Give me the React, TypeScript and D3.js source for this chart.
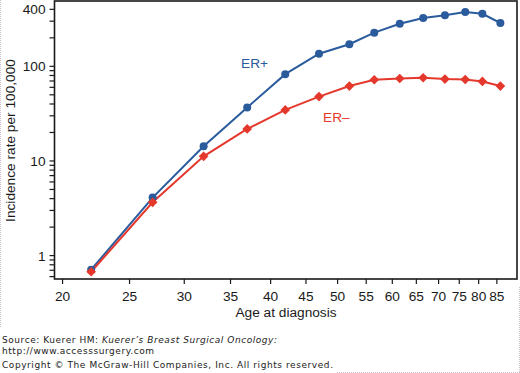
import React, { useEffect, useRef } from 'react';
import * as d3 from 'd3';

// Age at diagnosis (log-spaced axis) and incidence per 100,000
const ages = [22, 27, 32, 37, 42, 47, 52, 56.5, 61.5, 66.5, 71.5, 76.5, 81, 86];
const erPositive = [0.71, 4.1, 14.3, 36.8, 82.7, 136, 171, 227, 282, 324, 346, 375, 359, 287];
const erNegative = [0.675, 3.66, 11.2, 21.8, 34.6, 47.9, 61.9, 72.1, 74.4, 75.7, 73.3, 72.6, 69.2, 61.9];

const xTicks = [20, 25, 30, 35, 40, 45, 50, 55, 60, 65, 70, 75, 80, 85];
const yLabelTicks = [1, 10, 100, 400];
const yMinorTicks = [
  0.6, 0.7, 0.8, 0.9,
  1, 2, 3, 4, 5, 6, 7, 8, 9,
  10, 20, 30, 40, 50, 60, 70, 80, 90,
  100, 200, 300, 400,
];

const App: React.FC = () => {
  const svgRef = useRef<SVGSVGElement>(null);

  useEffect(() => {
    if (!svgRef.current) return;
    const svg = d3.select(svgRef.current);
    svg.selectAll('*').remove();

    // ---- styling ----
    const width = 520;
    const height = 373;
    const left = 54.5, right = 517, top = 1, bottom = 279;
    const blue = '#2a5b9c';
    const red = '#e5382d';
    const fontFamily = '"Liberation Sans", Arial, Helvetica, sans-serif';
    const fontSize = 13.7;

    svg.attr('width', width).attr('height', height);

    svg.append('rect').attr('width', width).attr('height', height).attr('fill', '#fff');

    const x = d3.scaleLog().domain([19.47, 90.9]).range([left, right]);
    const y = d3.scaleLog().domain([0.566, 490]).range([bottom, top]);

    // frame
    svg.append('rect')
      .attr('x', left)
      .attr('y', top)
      .attr('width', right - left)
      .attr('height', bottom - top)
      .attr('fill', 'none')
      .attr('stroke', '#1a1a1a')
      .attr('stroke-width', 1.6);

    // y ticks
    yMinorTicks.forEach(v => {
      svg.append('line')
        .attr('x1', left - 5)
        .attr('x2', left)
        .attr('y1', y(v))
        .attr('y2', y(v))
        .attr('stroke', '#1a1a1a')
        .attr('stroke-width', 1.2);
    });
    yLabelTicks.forEach(v => {
      svg.append('text')
        .attr('x', 45.5)
        .attr('y', y(v))
        .attr('dy', '0.36em')
        .attr('text-anchor', 'end')
        .attr('font-family', fontFamily)
        .attr('font-size', fontSize)
        .attr('fill', '#1a1a1a')
        .text(v);
    });

    // x ticks
    xTicks.forEach(v => {
      svg.append('line')
        .attr('x1', x(v))
        .attr('x2', x(v))
        .attr('y1', bottom)
        .attr('y2', bottom + 5)
        .attr('stroke', '#1a1a1a')
        .attr('stroke-width', 1.2);
      svg.append('text')
        .attr('x', x(v))
        .attr('y', 301)
        .attr('text-anchor', 'middle')
        .attr('font-family', fontFamily)
        .attr('font-size', fontSize)
        .attr('fill', '#1a1a1a')
        .text(v);
    });

    // axis titles
    svg.append('text')
      .attr('x', 286)
      .attr('y', 317)
      .attr('text-anchor', 'middle')
      .attr('font-family', fontFamily)
      .attr('font-size', fontSize)
      .attr('fill', '#1a1a1a')
      .text('Age at diagnosis');

    svg.append('text')
      .attr('transform', 'translate(14.5,140.5) rotate(-90)')
      .attr('text-anchor', 'middle')
      .attr('font-family', fontFamily)
      .attr('font-size', fontSize)
      .attr('fill', '#1a1a1a')
      .text('Incidence rate per 100,000');

    // series
    const line = d3.line<number>()
      .x((_, i) => x(ages[i]))
      .y(d => y(d));

    svg.append('path')
      .attr('d', line(erPositive))
      .attr('fill', 'none')
      .attr('stroke', blue)
      .attr('stroke-width', 2);

    svg.append('path')
      .attr('d', line(erNegative))
      .attr('fill', 'none')
      .attr('stroke', red)
      .attr('stroke-width', 2);

    erPositive.forEach((d, i) => {
      svg.append('circle')
        .attr('cx', x(ages[i]))
        .attr('cy', y(d))
        .attr('r', 4)
        .attr('fill', blue);
    });

    const diamond = d3.symbol().type(d3.symbolDiamond2).size(60);
    erNegative.forEach((d, i) => {
      svg.append('path')
        .attr('d', diamond()!)
        .attr('transform', `translate(${x(ages[i])},${y(d)})`)
        .attr('fill', red);
    });

    // series labels
    svg.append('text')
      .attr('x', 241)
      .attr('y', 68)
      .attr('font-family', fontFamily)
      .attr('font-size', fontSize)
      .attr('fill', blue)
      .text('ER+');

    svg.append('text')
      .attr('x', 323)
      .attr('y', 121.5)
      .attr('font-family', fontFamily)
      .attr('font-size', fontSize)
      .attr('fill', red)
      .text('ER\u2013');

    // footer
    const footFont = '"DejaVu Sans", Verdana, sans-serif';
    const src = svg.append('text')
      .attr('x', 2)
      .attr('y', 343)
      .attr('font-family', footFont)
      .attr('font-size', 9)
      .attr('fill', '#222')
      .attr('textLength', 275)
      .attr('lengthAdjust', 'spacing');
    src.append('tspan').text('Source: Kuerer HM: ');
    src.append('tspan').attr('font-style', 'italic').text('Kuerer\u2019s Breast Surgical Oncology:');

    svg.append('text')
      .attr('x', 2)
      .attr('y', 353.5)
      .attr('font-family', footFont)
      .attr('font-size', 9)
      .attr('fill', '#222')
      .attr('textLength', 152)
      .attr('lengthAdjust', 'spacing')
      .text('http://www.accesssurgery.com');

    svg.append('text')
      .attr('x', 2)
      .attr('y', 368)
      .attr('font-family', footFont)
      .attr('font-size', 9)
      .attr('fill', '#222')
      .attr('textLength', 331)
      .attr('lengthAdjust', 'spacing')
      .text('Copyright \u00a9 The McGraw-Hill Companies, Inc. All rights reserved.');

    // faint dotted page border fragments
    const dotted = '#cdbfcd';
    svg.append('line')
      .attr('x1', 0.5).attr('x2', 0.5).attr('y1', 0).attr('y2', 327)
      .attr('stroke', dotted).attr('stroke-dasharray', '1,1');
    svg.append('line')
      .attr('x1', 519.5).attr('x2', 519.5).attr('y1', 287).attr('y2', 373)
      .attr('stroke', dotted).attr('stroke-dasharray', '1,1');
    svg.append('line')
      .attr('x1', 337).attr('x2', 520).attr('y1', 372.5).attr('y2', 372.5)
      .attr('stroke', dotted).attr('stroke-dasharray', '1,1');
  }, []);

  return (
    <div style={{ position: 'absolute', left: 0, top: 0 }}>
      <svg ref={svgRef} style={{ display: 'block' }}></svg>
    </div>
  );
};

export default App;
